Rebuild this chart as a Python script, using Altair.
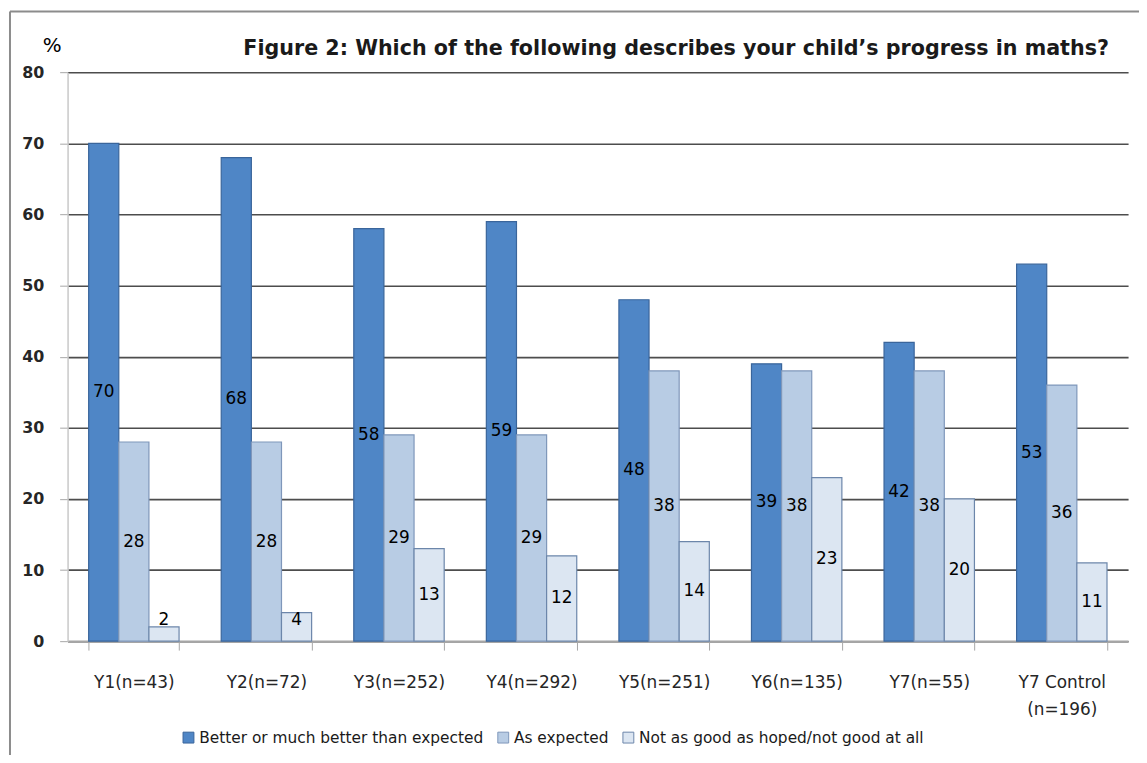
import altair as alt
import pandas as pd

categories = ["Y1(n=43)", "Y2(n=72)", "Y3(n=252)", "Y4(n=292)", "Y5(n=251)",
              "Y6(n=135)", "Y7(n=55)", "Y7 Control (n=196)"]
series = ["Better or much better than expected", "As expected",
          "Not as good as  hoped/not good at all"]
better = [70, 68, 58, 59, 48, 39, 42, 53]
as_expected = [28, 28, 29, 29, 38, 38, 38, 36]
not_good = [2, 4, 13, 12, 14, 23, 20, 11]
title_text = "Figure 2: Which of the following describes your child\u2019s progress in maths?"

rows = []
for i, c in enumerate(categories):
    for s, vals in zip(series, [better, as_expected, not_good]):
        rows.append({"cat": c, "series": s, "value": vals[i]})
df = pd.DataFrame(rows)

fills = ["#4F86C6", "#B8CCE4", "#DCE6F2"]
strokes = ["#3A659B", "#7F97BA", "#6C86AA"]

W, H = 1068, 573
FONT = "DejaVu Sans"

x = alt.X("cat:N", sort=categories, title=None,
          scale=alt.Scale(paddingInner=0.318, paddingOuter=0.159),
          axis=alt.Axis(labelAngle=0, labelFontSize=17, labelColor="#262626",
                        labelFont=FONT, tickBand="extent", tickSize=9,
                        tickColor="#A6A6A6", domainColor="#A6A6A6", domainWidth=1.5,
                        labelPadding=25, labelLineHeight=27,
                        labelExpr="split(replace(datum.label, ' (', '|('), '|')"))
xo = alt.XOffset("series:N", sort=series, scale=alt.Scale(paddingInner=0, paddingOuter=0))

bars = alt.Chart(df).mark_bar(strokeWidth=1.2).encode(
    x=x,
    xOffset=xo,
    y=alt.Y("value:Q", scale=alt.Scale(domain=[0, 80]),
            axis=alt.Axis(values=list(range(0, 81, 10)), title="%",
                          titleAngle=0, titleX=-16, titleY=-27, titleAlign="center",
                          titleBaseline="middle", titleFontSize=20, titleFontWeight="normal",
                          titleFont=FONT, titleColor="#000000",
                          labelFont=FONT, labelFontSize=16, labelFontWeight="bold",
                          labelColor="#262626", labelPadding=16, tickSize=8,
                          tickColor="#A6A6A6", domainColor="#C8C8C8", domainWidth=1.5,
                          grid=True, gridColor="#4D4D4D", gridWidth=1.6)),
    color=alt.Color("series:N", sort=series,
                    scale=alt.Scale(domain=series, range=fills),
                    legend=alt.Legend(title=None, orient="none", direction="horizontal",
                                      legendX=114, legendY=662, symbolType="square",
                                      symbolSize=120, symbolStrokeColor="#3A659B",
                                      symbolStrokeWidth=1, labelFont=FONT,
                                      labelFontSize=15.5, labelColor="#1a1a1a",
                                      labelLimit=0, columnPadding=12, labelOffset=3)),
    stroke=alt.Stroke("series:N", sort=series,
                      scale=alt.Scale(domain=series, range=strokes), legend=None),
)

labels = alt.Chart(df).transform_calculate(
    ypos="max(datum.value / 2, 3)"
).mark_text(font=FONT, fontSize=17, color="#000000", baseline="middle").encode(
    x=x,
    xOffset=xo,
    y=alt.Y("ypos:Q"),
    text=alt.Text("value:Q"),
)

one = pd.DataFrame({"k": [0]})
frame_left = alt.Chart(one).mark_rule(color="#8C8C8C", strokeWidth=2).encode(
    x=alt.value(-58), y=alt.value(-61), y2=alt.value(H + 300),
)
frame_top = alt.Chart(one).mark_rule(color="#8C8C8C", strokeWidth=2).encode(
    x=alt.value(-58), x2=alt.value(W + 300), y=alt.value(-61),
)

title = alt.Chart(one).mark_text(
    text=title_text, font=FONT, fontSize=20.8, fontWeight="bold", color="#1a1a1a",
    align="left", baseline="alphabetic"
).encode(x=alt.value(177), y=alt.value(-17))

chart = alt.layer(frame_left, frame_top, bars, labels, title).properties(
    width=W, height=H,
    padding={"left": 60, "top": 62, "right": 11, "bottom": 112},
    autosize=alt.AutoSizeParams(type="none"),
).configure_view(stroke=None).configure_axisX(grid=False)

chart.save("out.html", embed_options={"renderer": "svg", "actions": False})
